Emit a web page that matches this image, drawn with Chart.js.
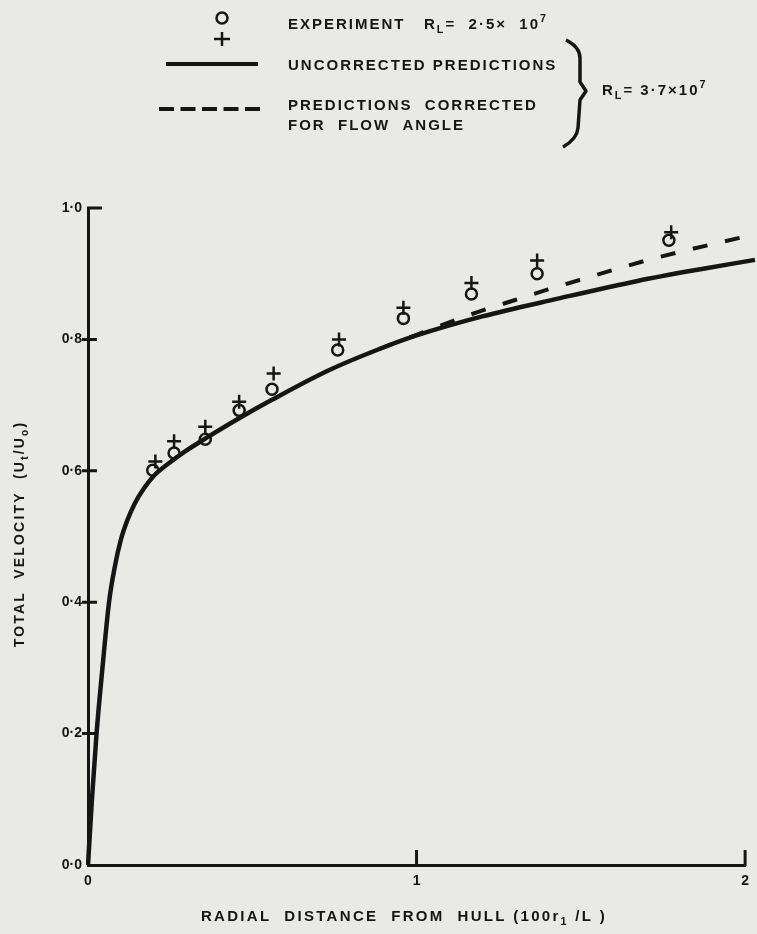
<!DOCTYPE html>
<html>
<head>
<meta charset="utf-8">
<script src="https://cdn.jsdelivr.net/npm/chart.js@4.4.0/dist/chart.umd.min.js"></script>
<style>
  body { margin: 0; background: #e9e9e6; }
  #wrap { width: 757px; height: 934px; }
</style>
</head>
<body>
<div id="wrap"><canvas id="fig" width="757" height="934"></canvas></div>
<script>
// values
var xTicks = [0, 1, 2];
var xTickLabels = ["0", "1", "2"];
var yTicks = [0, 0.2, 0.4, 0.6, 0.8, 1.0];
var yTickLabels = ["0·0", "0·2", "0·4", "0·6", "0·8", "1·0"];

// experiment, circles and crosses
var circleX = [0.197, 0.262, 0.357, 0.46, 0.56, 0.76, 0.96, 1.167, 1.367, 1.768];
var circleY = [0.601, 0.627, 0.648, 0.692, 0.724, 0.784, 0.832, 0.869, 0.900, 0.951];
var crossX  = [0.205, 0.262, 0.357, 0.46, 0.565, 0.764, 0.96, 1.167, 1.367, 1.775];
var crossY  = [0.614, 0.645, 0.667, 0.705, 0.748, 0.800, 0.848, 0.886, 0.920, 0.963];

// uncorrected predictions (solid)
var solidX = [0, 0.012, 0.026, 0.044, 0.064, 0.082, 0.10, 0.12, 0.142, 0.17, 0.2, 0.25, 0.3, 0.36, 0.46, 0.56, 0.733, 0.885, 1.0, 1.2, 1.43, 1.673, 1.855, 2.03];
var solidY = [0, 0.10, 0.20, 0.30, 0.40, 0.455, 0.495, 0.525, 0.55, 0.573, 0.592, 0.613, 0.631, 0.65, 0.68, 0.708, 0.753, 0.785, 0.806, 0.835, 0.862, 0.889, 0.906, 0.921];

// predictions corrected for flow angle (dashed)
var dashX = [0.885, 1.0, 1.188, 1.30, 1.40, 1.50, 1.713, 2.03];
var dashY = [0.785, 0.807, 0.842, 0.86, 0.876, 0.891, 0.922, 0.960];

function pts(xs, ys) {
  var out = [];
  for (var i = 0; i < xs.length; i++) out.push({x: xs[i], y: ys[i]});
  return out;
}

var INK = "#151515";
var FONT = "'Liberation Sans', 'DejaVu Sans', sans-serif";

// draw text made of pieces, some lowered (sub) or raised (sup)
function drawParts(ctx, parts, x, y, size, align) {
  ctx.textBaseline = "middle";
  ctx.textAlign = "left";
  var i, total = 0;
  if (align === "center") {
    for (i = 0; i < parts.length; i++) {
      ctx.font = "bold " + ((parts[i].sub || parts[i].sup) ? size * 0.72 : size) + "px " + FONT;
      total += ctx.measureText(parts[i].t).width;
    }
    x -= total / 2;
  }
  for (i = 0; i < parts.length; i++) {
    var p = parts[i];
    var s = size, dy = 0;
    if (p.sub) { s = size * 0.72; dy = size * 0.35; }
    if (p.sup) { s = size * 0.72; dy = -size * 0.4; }
    ctx.font = "bold " + s + "px " + FONT;
    ctx.fillText(p.t, x, y + dy);
    x += ctx.measureText(p.t).width;
  }
}

var paperBg = {
  id: "paperBg",
  beforeDraw: function(chart) {
    var ctx = chart.ctx;
    ctx.save();
    ctx.fillStyle = "#e9e9e6";
    ctx.fillRect(0, 0, chart.width, chart.height);
    ctx.restore();
  }
};

// tick marks like the original: y ticks cross the axis, x ticks point up
var tickMarks = {
  id: "tickMarks",
  afterDraw: function(chart) {
    var ctx = chart.ctx, xs = chart.scales.x, ys = chart.scales.y;
    var x0 = xs.getPixelForValue(0), y0 = ys.getPixelForValue(0);
    ctx.save();
    ctx.strokeStyle = INK;
    ctx.lineWidth = 3;
    ctx.beginPath();
    yTicks.forEach(function(v) {
      if (v === 0) return;
      var py = ys.getPixelForValue(v);
      if (v === 1.0) { ctx.moveTo(x0 - 1, py); ctx.lineTo(x0 + 14, py); }
      else { ctx.moveTo(x0 - 6, py); ctx.lineTo(x0 + 9, py); }
    });
    xTicks.forEach(function(v) {
      if (v === 0) return;
      var px = xs.getPixelForValue(v);
      ctx.moveTo(px, y0 + 1); ctx.lineTo(px, y0 - 15);
    });
    ctx.stroke();

    // axis titles
    ctx.fillStyle = INK;
    ctx.letterSpacing = "2.3px";
    drawParts(ctx, [{t: "RADIAL  DISTANCE  FROM  HULL (100r"}, {t: "1", sub: true}, {t: " /L )"}], 404, 917, 15, "center");
    ctx.letterSpacing = "2.2px";
    ctx.translate(20, 534);
    ctx.rotate(-Math.PI / 2);
    drawParts(ctx, [{t: "TOTAL  VELOCITY  (U"}, {t: "t", sub: true}, {t: "/U"}, {t: "o", sub: true}, {t: ")"}], 0, 0, 14, "center");
    ctx.restore();
  }
};

var legendArt = {
  id: "legendArt",
  afterDraw: function(chart) {
    var ctx = chart.ctx;
    ctx.save();
    ctx.fillStyle = INK;
    ctx.strokeStyle = INK;
    ctx.letterSpacing = "2px";

    // circle and cross symbols
    ctx.lineWidth = 2.5;
    ctx.beginPath(); ctx.arc(222, 18, 5.5, 0, Math.PI * 2); ctx.stroke();
    ctx.beginPath();
    ctx.moveTo(222, 32); ctx.lineTo(222, 46);
    ctx.moveTo(214, 39); ctx.lineTo(230, 39);
    ctx.stroke();
    drawParts(ctx, [{t: "EXPERIMENT   R"}, {t: "L", sub: true}, {t: "=  2·5×  10"}, {t: "7", sup: true}], 288, 25, 15);

    // solid
    ctx.lineWidth = 4;
    ctx.beginPath(); ctx.moveTo(166, 64); ctx.lineTo(258, 64); ctx.stroke();
    drawParts(ctx, [{t: "UNCORRECTED PREDICTIONS"}], 288, 66, 15);

    // dashed
    ctx.setLineDash([15, 6.5]);
    ctx.beginPath(); ctx.moveTo(159, 109); ctx.lineTo(261, 109); ctx.stroke();
    ctx.setLineDash([]);
    drawParts(ctx, [{t: "PREDICTIONS  CORRECTED"}], 288, 106, 15);
    drawParts(ctx, [{t: "FOR  FLOW  ANGLE"}], 288, 126, 15);

    // brace
    ctx.lineWidth = 3.5;
    ctx.lineJoin = "round";
    ctx.beginPath();
    ctx.moveTo(566, 40);
    ctx.quadraticCurveTo(580, 47, 580, 58);
    ctx.lineTo(580, 82);
    ctx.lineTo(586, 91);
    ctx.lineTo(580, 100);
    ctx.lineTo(578, 128);
    ctx.quadraticCurveTo(577, 139, 563, 147);
    ctx.stroke();
    ctx.letterSpacing = "2px";
    drawParts(ctx, [{t: "R"}, {t: "L", sub: true}, {t: "= 3·7×10"}, {t: "7", sup: true}], 602, 91, 15);
    ctx.restore();
  }
};

new Chart(document.getElementById("fig"), {
  type: "scatter",
  data: {
    datasets: [
      {
        label: "Experiment (circle)",
        data: pts(circleX, circleY),
        pointStyle: "circle",
        pointRadius: 5.5,
        borderWidth: 2.5,
        borderColor: INK,
        backgroundColor: "rgba(0,0,0,0)"
      },
      {
        label: "Experiment (cross)",
        data: pts(crossX, crossY),
        pointStyle: "cross",
        pointRadius: 7,
        borderWidth: 2.5,
        borderColor: INK,
        backgroundColor: INK
      },
      {
        label: "Uncorrected predictions",
        data: pts(solidX, solidY),
        showLine: true,
        pointRadius: 0,
        borderWidth: 4.5,
        borderColor: INK,
        cubicInterpolationMode: "monotone",
        clip: {left: 2, top: 2, right: 12, bottom: 2}
      },
      {
        label: "Predictions corrected for flow angle",
        data: pts(dashX, dashY),
        showLine: true,
        pointRadius: 0,
        borderWidth: 4,
        borderDash: [15, 18],
        borderColor: INK,
        cubicInterpolationMode: "monotone",
        clip: {left: 2, top: 2, right: 12, bottom: 2}
      }
    ]
  },
  options: {
    responsive: false,
    animation: false,
    layout: { padding: { top: 208, right: 9, left: 0, bottom: 0 } },
    plugins: { legend: { display: false }, tooltip: { enabled: false } },
    scales: {
      x: {
        type: "linear",
        min: 0, max: 2,
        afterBuildTicks: function(s) { s.ticks = xTicks.map(function(v) { return {value: v}; }); },
        afterFit: function(s) { s.height = 69; },
        grid: { display: false, drawTicks: false },
        border: { display: true, width: 3, color: INK },
        ticks: {
          padding: 8,
          color: INK,
          font: { family: FONT, weight: "bold", size: 14 },
          callback: function(v) { return xTickLabels[xTicks.indexOf(v)]; }
        }
      },
      y: {
        type: "linear",
        min: 0, max: 1,
        afterBuildTicks: function(s) { s.ticks = yTicks.map(function(v) { return {value: v}; }); },
        afterFit: function(s) { s.width = 88; },
        grid: { display: false, drawTicks: false },
        border: { display: true, width: 3, color: INK },
        ticks: {
          padding: 6,
          color: INK,
          font: { family: FONT, weight: "bold", size: 14 },
          callback: function(v) { return yTickLabels[yTicks.indexOf(v)]; }
        }
      }
    }
  },
  plugins: [paperBg, tickMarks, legendArt]
});
</script>
</body>
</html>
